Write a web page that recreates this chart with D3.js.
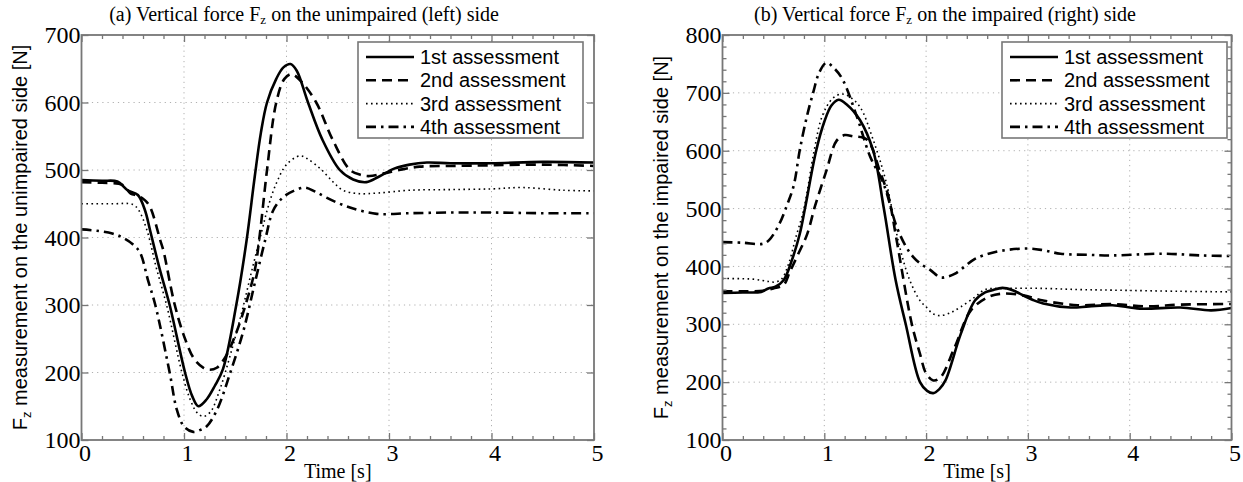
<!DOCTYPE html>
<html>
<head>
<meta charset="utf-8">
<script src="https://cdn.jsdelivr.net/npm/d3@7"></script>
<style>
  html, body { margin: 0; padding: 0; background: #fff; }
  svg { display: block; }
  .serif { font-family: "Liberation Serif", "Times New Roman", serif; }
  .sans { font-family: "Liberation Sans", Arial, sans-serif; }
</style>
</head>
<body>
<svg id="chart" width="1243" height="482"></svg>
<script>
// Vertical ground-reaction force Fz over a 5 s trial, four assessments per side.
// Each series is a list of [time (s), force (N)] samples.

const seriesNames = ["1st assessment", "2nd assessment", "3rd assessment", "4th assessment"];
const xTicks = [0, 1, 2, 3, 4, 5];
const leftYTicks = [100, 200, 300, 400, 500, 600, 700];
const rightYTicks = [100, 200, 300, 400, 500, 600, 700, 800];

// (a) unimpaired (left) side
const leftFirst = [[0,485],[0.2,484],[0.35,483],[0.45,470],[0.55,463],[0.62,440],[0.67,410],[0.76,355],[0.86,300],[1.01,200],[1.08,165],[1.14,150],[1.22,160],[1.3,180],[1.38,205],[1.51,300],[1.61,395],[1.69,490],[1.75,555],[1.81,600],[1.9,635],[1.97,652],[2.04,657],[2.1,647],[2.21,600],[2.35,545],[2.52,500],[2.65,486],[2.78,482],[2.9,490],[3.05,502],[3.2,508],[3.37,511],[3.6,510],[4.0,510],[4.5,512],[5,511]];
const leftSecond = [[0,482],[0.2,481],[0.4,478],[0.48,465],[0.55,462],[0.62,455],[0.67,445],[0.77,395],[0.8,380],[0.91,300],[1.01,250],[1.1,220],[1.19,207],[1.25,204],[1.32,207],[1.4,222],[1.5,255],[1.61,305],[1.69,351],[1.74,405],[1.81,500],[1.9,600],[1.98,635],[2.05,642],[2.15,630],[2.29,600],[2.45,545],[2.62,500],[2.72,493],[2.81,491],[2.95,495],[3.1,500],[3.3,505],[3.6,506],[4.0,507],[4.5,508],[5,506]];
const leftThird = [[0,450],[0.3,450],[0.5,449],[0.56,440],[0.64,410],[0.73,355],[0.83,300],[0.98,200],[1.06,160],[1.13,140],[1.19,135],[1.26,142],[1.35,175],[1.45,225],[1.56,287],[1.66,350],[1.76,410],[1.82,445],[1.9,480],[2.0,508],[2.13,521],[2.2,517],[2.33,502],[2.45,483],[2.55,470],[2.7,465],[2.9,466],[3.2,470],[3.6,471],[4.0,472],[4.3,474],[4.7,470],[5,469]];
const leftFourth = [[0,412],[0.15,410],[0.3,406],[0.4,400],[0.5,390],[0.57,378],[0.65,336],[0.72,300],[0.86,200],[0.93,145],[1.0,120],[1.09,112],[1.16,115],[1.22,120],[1.32,144],[1.45,199],[1.58,262],[1.69,332],[1.79,395],[1.87,440],[1.97,460],[2.07,469],[2.18,474],[2.28,468],[2.39,459],[2.52,450],[2.65,443],[2.88,435],[3.2,436],[3.6,437],[4.0,437],[4.5,436],[5,436]];

// (b) impaired (right) side
const rightFirst = [[0,354],[0.2,355],[0.38,356],[0.45,362],[0.52,365],[0.6,376],[0.68,410],[0.76,457],[0.81,500],[0.92,600],[1.0,650],[1.07,678],[1.14,688],[1.22,680],[1.35,653],[1.48,600],[1.585,500],[1.7,377],[1.8,300],[1.94,200],[2.01,185],[2.07,181],[2.13,188],[2.19,203],[2.34,283],[2.48,341],[2.58,355],[2.65,359],[2.75,363],[2.85,359],[2.92,353],[3.05,342],[3.15,336],[3.42,329],[3.6,331],[3.83,333],[4.1,327],[4.5,329],[4.8,324],[5,328]];
const rightSecond = [[0,357],[0.2,357],[0.4,358],[0.5,362],[0.6,368],[0.66,390],[0.74,420],[0.83,455],[0.91,505],[1.02,565],[1.12,617],[1.2,627],[1.28,625],[1.42,619],[1.55,562],[1.63,521],[1.71,446],[1.86,300],[1.94,249],[2.0,215],[2.07,203],[2.14,208],[2.28,260],[2.44,324],[2.61,347],[2.75,353],[2.95,350],[3.15,341],[3.49,333],[3.83,335],[4.16,331],[4.5,334],[5,335]];
const rightThird = [[0,379],[0.3,378],[0.45,374],[0.52,373],[0.58,378],[0.65,405],[0.72,450],[0.8,500],[0.9,600],[0.98,660],[1.08,690],[1.17,698],[1.25,693],[1.35,676],[1.48,619],[1.61,544],[1.74,434],[1.84,376],[1.94,341],[2.0,330],[2.07,318],[2.14,315],[2.24,320],[2.34,330],[2.48,347],[2.58,360],[2.75,362],[3.15,362],[3.5,360],[3.83,359],[4.5,357],[5,356]];
const rightFourth = [[0,442],[0.2,441],[0.39,439],[0.455,445],[0.56,474],[0.64,509],[0.7,540],[0.76,602],[0.83,660],[0.89,700],[0.95,735],[1.02,752],[1.1,742],[1.18,723],[1.32,659],[1.45,590],[1.58,544],[1.71,469],[1.8,435],[1.87,417],[1.95,404],[2.04,394],[2.14,381],[2.2,382],[2.28,387],[2.38,400],[2.48,413],[2.68,425],[2.98,431],[3.15,428],[3.32,422],[3.6,420],[3.83,419],[4.33,422],[4.7,419],[5,418]];

// Line styles shared by both panels (order follows seriesNames)
const lineStyles = [
  { width: 2.6, dash: null },
  { width: 2.6, dash: "10,6" },
  { width: 1.6, dash: "1.6,3.4" },
  { width: 2.6, dash: "10,5,2.5,5" }
];

const svg = d3.select("#chart");
const axisColor = "#777";

const panels = [
  {
    title: ["(a) Vertical force F", "z", " on the unimpaired (left) side"],
    ylabel: ["F", "z", " measurement on the unimpaired side [N]"],
    x0: 81.5, x1: 594, y0: 35, y1: 440,
    yDomain: [100, 700], yTicks: leftYTicks, yMinor: false,
    titleX: 304, ylabelX: 20, legendRight: 583,
    series: [leftFirst, leftSecond, leftThird, leftFourth]
  },
  {
    title: ["(b) Vertical force F", "z", " on the impaired (right) side"],
    ylabel: ["F", "z", " measurement on the impaired side [N]"],
    x0: 722.5, x1: 1231.5, y0: 35, y1: 440,
    yDomain: [100, 800], yTicks: rightYTicks, yMinor: true,
    titleX: 945, ylabelX: 661, legendRight: 1227,
    series: [rightFirst, rightSecond, rightThird, rightFourth]
  }
];

panels.forEach(p => {
  const x = d3.scaleLinear().domain([0, 5]).range([p.x0, p.x1]);
  const y = d3.scaleLinear().domain(p.yDomain).range([p.y1, p.y0]);
  const g = svg.append("g");

  // dotted grid at the major ticks
  g.append("g").selectAll("line").data(xTicks.slice(1, -1)).join("line")
    .attr("x1", d => x(d)).attr("x2", d => x(d))
    .attr("y1", p.y0).attr("y2", p.y1)
    .attr("stroke", "#b0b0b0").attr("stroke-width", 1).attr("stroke-dasharray", "1.2,4");
  g.append("g").selectAll("line").data(p.yTicks.slice(1, -1)).join("line")
    .attr("x1", p.x0).attr("x2", p.x1)
    .attr("y1", d => y(d)).attr("y2", d => y(d))
    .attr("stroke", "#b0b0b0").attr("stroke-width", 1).attr("stroke-dasharray", "1.2,4");

  // data lines
  const line = d3.line().x(d => x(d[0])).y(d => y(d[1])).curve(d3.curveCatmullRom.alpha(0.5));
  p.series.forEach((s, i) => {
    g.append("path").datum(s)
      .attr("d", line)
      .attr("fill", "none")
      .attr("stroke", "#000")
      .attr("stroke-width", lineStyles[i].width)
      .attr("stroke-linejoin", "round")
      .attr("stroke-dasharray", lineStyles[i].dash);
  });

  // inward ticks on all four sides
  const minorX = d3.range(0, 5.001, 0.2).map(v => +v.toFixed(1)).filter(v => !xTicks.includes(v));
  const styleAxis = sel => {
    sel.select(".domain").remove();
    sel.selectAll(".tick line").attr("stroke", axisColor).attr("stroke-width", 1.3);
  };
  const bottom = g.append("g").attr("transform", `translate(0,${p.y1})`)
    .call(d3.axisBottom(x).tickValues(xTicks).tickSize(-7).tickPadding(4).tickFormat(d3.format("d")));
  styleAxis(bottom);
  bottom.selectAll(".tick text").attr("class", "serif").attr("font-size", 24).attr("fill", "#000")
    .attr("dx", 3).attr("dy", "0.72em");
  g.append("g").attr("transform", `translate(0,${p.y1})`)
    .call(d3.axisBottom(x).tickValues(minorX).tickSize(-4).tickFormat("")).call(styleAxis);
  g.append("g").attr("transform", `translate(0,${p.y0})`)
    .call(d3.axisTop(x).tickValues(xTicks).tickSize(-7).tickFormat("")).call(styleAxis);
  g.append("g").attr("transform", `translate(0,${p.y0})`)
    .call(d3.axisTop(x).tickValues(minorX).tickSize(-4).tickFormat("")).call(styleAxis);

  const left = g.append("g").attr("transform", `translate(${p.x0},0)`)
    .call(d3.axisLeft(y).tickValues(p.yTicks).tickSize(-7).tickPadding(1).tickFormat(d3.format("d")));
  styleAxis(left);
  left.selectAll(".tick text").attr("class", "serif").attr("font-size", 24).attr("fill", "#000");
  g.append("g").attr("transform", `translate(${p.x1},0)`)
    .call(d3.axisRight(y).tickValues(p.yTicks).tickSize(-7).tickFormat("")).call(styleAxis);
  if (p.yMinor) {
    const minorY = d3.range(p.yDomain[0], p.yDomain[1] + 1, 20).filter(v => v % 100 !== 0);
    g.append("g").attr("transform", `translate(${p.x0},0)`)
      .call(d3.axisLeft(y).tickValues(minorY).tickSize(-4).tickFormat("")).call(styleAxis);
    g.append("g").attr("transform", `translate(${p.x1},0)`)
      .call(d3.axisRight(y).tickValues(minorY).tickSize(-4).tickFormat("")).call(styleAxis);
  }

  // frame
  g.append("rect")
    .attr("x", p.x0).attr("y", p.y0)
    .attr("width", p.x1 - p.x0).attr("height", p.y1 - p.y0)
    .attr("fill", "none").attr("stroke", axisColor).attr("stroke-width", 1.8);

  // panel title with subscript
  const t = g.append("text").attr("class", "serif")
    .attr("x", p.titleX).attr("y", 21).attr("text-anchor", "middle")
    .attr("font-size", 20).attr("fill", "#000");
  t.append("tspan").text(p.title[0]);
  t.append("tspan").attr("font-size", 13).attr("dy", 3).text(p.title[1]);
  t.append("tspan").attr("dy", -3).text(p.title[2]);

  // x-axis label
  g.append("text").attr("class", "serif")
    .attr("x", (p.x0 + p.x1) / 2).attr("y", 478).attr("text-anchor", "middle")
    .attr("font-size", 20).attr("fill", "#000").text("Time [s]");

  // y-axis label with subscript
  const yl = g.append("text").attr("class", "sans")
    .attr("transform", `translate(${p.ylabelX + 7},${(p.y0 + p.y1) / 2}) rotate(-90)`)
    .attr("text-anchor", "middle").attr("font-size", 20).attr("fill", "#000");
  yl.append("tspan").text(p.ylabel[0]);
  yl.append("tspan").attr("font-size", 13).attr("dy", 4).text(p.ylabel[1]);
  yl.append("tspan").attr("dy", -4).text(p.ylabel[2]);

  // legend
  const lw = 225, lh = 96, lx = p.legendRight - lw, ly = 42;
  const lg = g.append("g");
  lg.append("rect").attr("x", lx).attr("y", ly).attr("width", lw).attr("height", lh)
    .attr("fill", "#fff").attr("stroke", axisColor).attr("stroke-width", 1.6);
  seriesNames.forEach((name, i) => {
    const yy = ly + 15 + i * 23.3;
    lg.append("line").attr("x1", lx + 8).attr("x2", lx + 56).attr("y1", yy).attr("y2", yy)
      .attr("stroke", "#000").attr("stroke-width", lineStyles[i].width)
      .attr("stroke-dasharray", lineStyles[i].dash);
    lg.append("text").attr("class", "sans").attr("x", lx + 62).attr("y", yy)
      .attr("dy", "0.35em").attr("font-size", 20).attr("fill", "#000").text(name);
  });
});
</script>
</body>
</html>
